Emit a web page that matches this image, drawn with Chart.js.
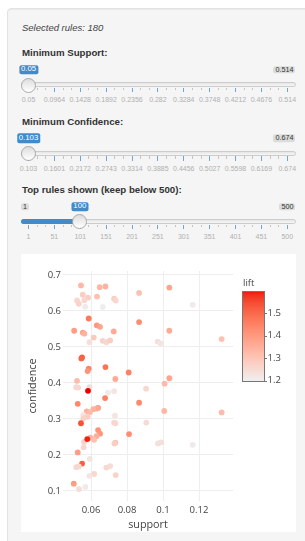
<!DOCTYPE html>
<html><head><meta charset="utf-8">
<script src="https://cdn.jsdelivr.net/npm/chart.js@4/dist/chart.umd.min.js"></script>
<style>
html,body{margin:0;padding:0;background:#fff;width:305px;height:541px;overflow:hidden;font-family:"Liberation Sans",Arial,Helvetica,sans-serif;}
#well{position:absolute;left:7px;top:8px;width:330px;height:560px;background:#f5f5f5;border:1px solid #e3e3e3;border-radius:4px;box-sizing:border-box;box-shadow:inset 0 1px 1px rgba(0,0,0,.05);}
.t{position:absolute;white-space:nowrap;line-height:1;color:#333;}
.lbl{font-weight:bold;font-size:9.7px;}
.badge{position:absolute;white-space:nowrap;border-radius:2px;}
.single{background:#428bca;color:#fff;font-size:7.8px;line-height:8.2px;padding:0.6px 2px;}
.mm{background:rgba(0,0,0,0.1);color:#333;font-size:7.2px;line-height:7.2px;padding:0.2px 2px;}
.track{position:absolute;height:5px;border:1px solid #cccccc;box-sizing:border-box;border-radius:4px;background:linear-gradient(to bottom,#dddddd -50%,#ffffff 150%);}
.bar{position:absolute;height:5px;background:#428bca;border-radius:3px 0 0 3px;}
.handle{position:absolute;width:15px;height:15px;box-sizing:border-box;border:1px solid #aaaaaa;border-radius:50%;background:linear-gradient(to bottom,#dddddd 0%,#ffffff 100%);}
.tick{position:absolute;width:1px;}
.gtxt{position:absolute;white-space:nowrap;font-size:7px;line-height:1;color:#b0b0b0;}
#plotbox{position:absolute;left:21px;top:254px;width:275px;height:278px;background:#fff;}
</style>
</head>
<body>
<div id="well"></div>
<div id="ui"></div>
<div id="plotbox"><canvas id="c" width="275" height="278"></canvas></div>
<script>
// ---------- data ----------
const selectedRules = 180;
const supportTicks = ['0.05','0.0964','0.1428','0.1892','0.2356','0.282','0.3284','0.3748','0.4212','0.4676','0.514'];
const confidenceTicks = ['0.103','0.1601','0.2172','0.2743','0.3314','0.3885','0.4456','0.5027','0.5598','0.6169','0.674'];
const topRulesTicks = ['1','51','101','151','201','251','301','351','401','451','500'];

const support = [
0.0544,0.0648,0.0680,0.1035,0.0554,0.0633,0.0583,0.0522,0.0563,0.0532,
0.0567,0.0665,0.0728,0.0737,0.0867,0.1165,0.0587,0.0506,0.0554,0.0563,
0.0632,0.0650,0.0726,0.0867,0.1035,0.1326,0.0615,0.0591,0.0665,0.0685,
0.0706,0.0970,0.0987,0.0550,0.0546,0.0680,0.0587,0.0581,0.0809,0.0735,
0.1035,0.1009,0.0522,0.0518,0.0528,0.0591,0.0906,0.0694,0.0728,0.0678,
0.0526,0.0867,0.0639,0.0632,0.0613,0.0576,0.0594,0.0557,0.0581,0.0557,
0.0733,0.1007,0.1326,0.0544,0.0728,0.0735,0.0907,0.0639,0.0650,0.0630,
0.0596,0.0617,0.0561,0.0559,0.0811,0.0735,0.0730,0.0972,0.0989,0.1165,
0.0526,0.0593,0.0550,0.0518,0.0532,0.0685,0.0706,0.0617,0.0591,0.0737,
0.0504,0.0533,0.0568,0.0583,0.0579];
const confidence = [
0.671,0.666,0.668,0.665,0.645,0.640,0.637,0.629,0.630,0.620,
0.612,0.611,0.634,0.629,0.650,0.617,0.579,0.545,0.540,0.537,
0.560,0.556,0.543,0.569,0.545,0.522,0.526,0.513,0.517,0.513,
0.518,0.515,0.510,0.471,0.468,0.444,0.440,0.433,0.429,0.411,
0.413,0.398,0.406,0.388,0.387,0.388,0.384,0.373,0.377,0.358,
0.342,0.345,0.331,0.329,0.327,0.321,0.319,0.311,0.306,0.302,
0.309,0.322,0.318,0.288,0.290,0.288,0.290,0.269,0.259,0.252,
0.248,0.242,0.236,0.221,0.258,0.234,0.232,0.232,0.235,0.228,
0.207,0.189,0.176,0.166,0.168,0.165,0.169,0.147,0.142,0.144,
0.120,0.105,0.111,0.378,0.244];
const lift = [
1.32,1.32,1.33,1.36,1.27,1.30,1.27,1.25,1.25,1.26,
1.21,1.20,1.27,1.25,1.30,1.21,1.45,1.38,1.36,1.33,
1.39,1.36,1.35,1.41,1.35,1.30,1.28,1.23,1.26,1.25,
1.27,1.23,1.22,1.50,1.49,1.46,1.43,1.40,1.43,1.35,
1.36,1.31,1.31,1.25,1.25,1.24,1.25,1.21,1.22,1.44,
1.42,1.42,1.39,1.35,1.33,1.34,1.31,1.22,1.27,1.26,
1.22,1.32,1.31,1.52,1.25,1.25,1.24,1.40,1.39,1.34,
1.33,1.30,1.26,1.25,1.41,1.30,1.27,1.23,1.23,1.21,
1.38,1.22,1.50,1.25,1.25,1.25,1.24,1.25,1.22,1.26,
1.38,1.24,1.21,1.596,1.58];
const xTicks = [0.06,0.08,0.1,0.12];
const yTicks = [0.1,0.2,0.3,0.4,0.5,0.6,0.7];
const liftTicks = [1.2,1.3,1.4,1.5];

// ---------- UI (shiny sidebar) ----------
const ui = document.getElementById('ui');
function el(cls, txt){const d=document.createElement('div');d.className=cls;if(txt!==undefined)d.textContent=txt;ui.appendChild(d);return d;}
function placeY(d,left,cy){d.style.left=left+'px';d.style.top=cy+'px';d.style.transform='translateY(-50%)';}
function placeC(d,cx,cy){d.style.left=cx+'px';d.style.top=cy+'px';d.style.transform='translate(-50%,-50%)';}
function placeR(d,right,cy){d.style.left=right+'px';d.style.top=cy+'px';d.style.transform='translate(-100%,-50%)';}

const sel = el('t','Selected rules: '+selectedRules);
sel.style.fontStyle='italic';sel.style.fontSize='9.5px';sel.style.color='#444';
placeY(sel,22,27.5);

const gL=28.5, gR=287.3, tL=21, tR=296;
function slider(label, ly, min, max, value, ticks, fillBar, showMin){
  const l=el('t lbl',label); placeY(l,22,ly);
  const hx=gL+(value-min)/(max-min)*(gR-gL);
  const ty=ly+31.6;
  const tr=el('track'); tr.style.left=tL+'px'; tr.style.width=(tR-tL)+'px'; tr.style.top=(ty-2.5)+'px';
  if(fillBar){const b=el('bar');b.style.left=tL+'px';b.style.width=(hx-tL)+'px';b.style.top=(ty-2.5)+'px';}
  const n=ticks.length-1, step=(gR-gL)/n;
  for(let i=0;i<=n;i++){
    const x=gL+i*step;
    const tk=el('tick');tk.style.left=(x-0.5)+'px';tk.style.top=(ty+2.8)+'px';tk.style.height='4.5px';tk.style.background='rgba(66,139,202,0.75)';
    if(i<n){for(let z=1;z<=2;z++){const s=el('tick');s.style.left=(x+z*step/3-0.5)+'px';s.style.top=(ty+2.8)+'px';s.style.height='2.5px';s.style.background='#c4c4c4';}}
    const g=el('gtxt',ticks[i]); placeC(g,x,ly+46);
  }
  const h=el('handle'); h.style.left=(hx-7.5)+'px'; h.style.top=(ty-7.3)+'px';
  const sb=el('badge single',String(value)); placeC(sb,hx,ly+16.6);
  if(showMin){const mb=el('badge mm',ticks[0]); placeY(mb,tL,ly+16.5);}
  const xb=el('badge mm',ticks[n]); placeR(xb,295.4,ly+16.5);
}
slider('Minimum Support:',53.2,0.05,0.514,0.05,supportTicks,false,false);
slider('Minimum Confidence:',121.7,0.103,0.674,0.103,confidenceTicks,false,false);
slider('Top rules shown (keep below 500):',190.1,1,500,100,topRulesTicks,true,true);

// ---------- colour scale (Lab interpolation #EEEEEE -> #EE0000) ----------
function s2l(c){c/=255;return c<=0.04045?c/12.92:Math.pow((c+0.055)/1.055,2.4);}
function l2s(c){c=c<=0.0031308?12.92*c:1.055*Math.pow(c,1/2.4)-0.055;return Math.round(Math.max(0,Math.min(1,c))*255);}
function f(t){return t>0.008856?Math.cbrt(t):7.787*t+16/116;}
function fi(t){return t>0.206893?t*t*t:(t-16/116)/7.787;}
function rgb2lab(c){const R=s2l(c[0]),G=s2l(c[1]),B=s2l(c[2]);
  const X=(0.4124*R+0.3576*G+0.1805*B)/0.95047,Y=(0.2126*R+0.7152*G+0.0722*B),Z=(0.0193*R+0.1192*G+0.9505*B)/1.08883;
  const fx=f(X),fy=f(Y),fz=f(Z);return [116*fy-16,500*(fx-fy),200*(fy-fz)];}
function lab2rgb(l){const fy=(l[0]+16)/116,fx=fy+l[1]/500,fz=fy-l[2]/200;
  const X=fi(fx)*0.95047,Y=fi(fy),Z=fi(fz)*1.08883;
  const R=3.2406*X-1.5372*Y-0.4986*Z,G=-0.9689*X+1.8758*Y+0.0415*Z,B=0.0557*X-0.2040*Y+1.0570*Z;
  return [l2s(R),l2s(G),l2s(B)];}
const labLo=rgb2lab([238,238,238]), labHi=rgb2lab([238,0,0]);
function colorAt(t){t=Math.max(0,Math.min(1,t));const c=lab2rgb([0,1,2].map(k=>labLo[k]+(labHi[k]-labLo[k])*t));return 'rgb('+c.join(',')+')';}
const lMin=Math.min(...lift), lMax=Math.max(...lift);
const pointColors=lift.map(v=>colorAt((v-lMin)/(lMax-lMin)));

// ---------- chart ----------
const FONT='"Open Sans", verdana, arial, sans-serif';
const colorbar={
  id:'colorbar',
  afterDraw(chart){
    const ctx=chart.ctx, ca=chart.chartArea;
    const x0=ca.right+10, w=21, y0=ca.top+20.7, h=89;
    for(let i=0;i<h;i++){ctx.fillStyle=colorAt(1-(i+0.5)/h);ctx.fillRect(x0,y0+i,w,1.2);}
    ctx.strokeStyle='#777';ctx.lineWidth=1;ctx.strokeRect(Math.round(x0)-0.5,Math.round(y0)-0.5,w+1,h+1);
    ctx.fillStyle='#444';ctx.font='9.5px '+FONT;ctx.textBaseline='middle';ctx.textAlign='left';
    liftTicks.forEach(v=>{const y=y0+h-(v-lMin)/(lMax-lMin)*h;
      ctx.beginPath();ctx.moveTo(x0+w+1,Math.round(y)+0.5);ctx.lineTo(x0+w+3,Math.round(y)+0.5);ctx.strokeStyle='#777';ctx.stroke();
      ctx.fillText(String(v),x0+w+3.5,y);});
    ctx.fillText('lift',x0,y0-8.5);
  }
};
new Chart(document.getElementById('c'),{
  type:'scatter',
  data:{datasets:[{data:support.map((s,i)=>({x:s,y:confidence[i]})),backgroundColor:pointColors,pointRadius:2.9,pointHoverRadius:2.9,borderWidth:0}]},
  options:{
    responsive:false,animation:false,devicePixelRatio:1,
    layout:{padding:{left:0,top:17,right:63,bottom:0}},
    plugins:{legend:{display:false},tooltip:{enabled:false}},
    scales:{
      x:{type:'linear',min:0.0444,max:0.1389,
        afterBuildTicks:s=>{s.ticks=xTicks.map(v=>({value:v}));},
        afterFit:s=>{s.height=31;},
        grid:{color:'#eeeeee',lineWidth:1,drawTicks:false},border:{display:false},
        ticks:{padding:3.5,color:'#444',font:{family:FONT,size:9.5},callback:v=>String(v),maxRotation:0,autoSkip:false},
        title:{display:true,text:'support',color:'#444',font:{family:FONT,size:10.8},padding:{top:0,bottom:0.6}}},
      y:{type:'linear',min:0.072,max:0.711,
        afterBuildTicks:s=>{s.ticks=yTicks.map(v=>({value:v}));},
        afterFit:s=>{s.width=42;},
        grid:{color:'#eeeeee',lineWidth:1,drawTicks:false},border:{display:false},
        ticks:{padding:2,color:'#444',font:{family:FONT,size:9.5},callback:v=>String(v),autoSkip:false},
        title:{display:true,text:'confidence',color:'#444',font:{family:FONT,size:10.8},padding:{top:5.6,bottom:0}}}
    }
  },
  plugins:[colorbar]
});
</script>
</body></html>
